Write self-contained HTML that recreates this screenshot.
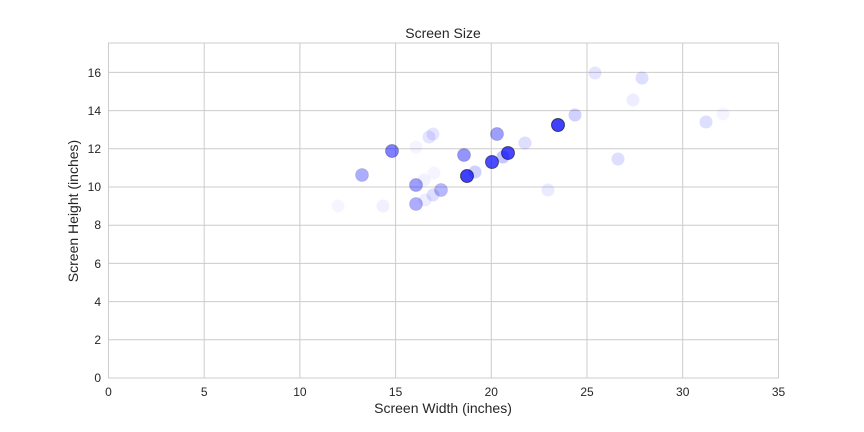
<!DOCTYPE html>
<html><head><meta charset="utf-8"><style>
body{margin:0;background:#fff;}
svg{display:block;font-family:"Liberation Sans",Arial,sans-serif;}
</style></head><body>
<svg width="864" height="432" viewBox="0 0 864 432" xmlns="http://www.w3.org/2000/svg">
<rect width="864" height="432" fill="#fff"/>
<g stroke="#cccccc" stroke-width="1">
<line x1="204.2" y1="43" x2="204.2" y2="378"/>
<line x1="299.9" y1="43" x2="299.9" y2="378"/>
<line x1="395.6" y1="43" x2="395.6" y2="378"/>
<line x1="491.3" y1="43" x2="491.3" y2="378"/>
<line x1="587" y1="43" x2="587" y2="378"/>
<line x1="682.7" y1="43" x2="682.7" y2="378"/>
<line x1="108.5" y1="339.8" x2="778.5" y2="339.8"/>
<line x1="108.5" y1="301.6" x2="778.5" y2="301.6"/>
<line x1="108.5" y1="263.4" x2="778.5" y2="263.4"/>
<line x1="108.5" y1="225.2" x2="778.5" y2="225.2"/>
<line x1="108.5" y1="187" x2="778.5" y2="187"/>
<line x1="108.5" y1="148.8" x2="778.5" y2="148.8"/>
<line x1="108.5" y1="110.6" x2="778.5" y2="110.6"/>
<line x1="108.5" y1="72.4" x2="778.5" y2="72.4"/>
<rect x="108.5" y="43" width="670" height="335" fill="none"/>
</g>
<g fill="#0000ff">
<circle cx="595" cy="73" r="6.5" fill-opacity="0.1"/>
<circle cx="642" cy="78" r="6.5" fill-opacity="0.13"/>
<circle cx="633" cy="100" r="6.5" fill-opacity="0.07"/>
<circle cx="575" cy="115" r="6.5" fill-opacity="0.18"/>
<circle cx="706" cy="122" r="6.5" fill-opacity="0.13"/>
<circle cx="723" cy="114" r="6.5" fill-opacity="0.04"/>
<circle cx="433" cy="134" r="6.5" fill-opacity="0.1"/>
<circle cx="429" cy="137" r="6.5" fill-opacity="0.1"/>
<circle cx="497" cy="134" r="6.5" fill-opacity="0.38" stroke="#000" stroke-opacity="0.15"/>
<circle cx="525" cy="143" r="6.5" fill-opacity="0.13"/>
<circle cx="392" cy="151" r="6.5" fill-opacity="0.5" stroke="#000" stroke-opacity="0.25"/>
<circle cx="416" cy="147" r="6.5" fill-opacity="0.04"/>
<circle cx="464" cy="155" r="6.5" fill-opacity="0.42" stroke="#000" stroke-opacity="0.15"/>
<circle cx="503" cy="157" r="6.5" fill-opacity="0.22"/>
<circle cx="618" cy="159" r="6.5" fill-opacity="0.13"/>
<circle cx="362" cy="175" r="6.5" fill-opacity="0.32" stroke="#000" stroke-opacity="0.1"/>
<circle cx="475" cy="172" r="6.5" fill-opacity="0.18"/>
<circle cx="434" cy="173" r="6.5" fill-opacity="0.04"/>
<circle cx="424" cy="180" r="6.5" fill-opacity="0.05"/>
<circle cx="416" cy="185" r="6.5" fill-opacity="0.38" stroke="#000" stroke-opacity="0.15"/>
<circle cx="441" cy="190" r="6.5" fill-opacity="0.28" stroke="#000" stroke-opacity="0.1"/>
<circle cx="433" cy="195" r="6.5" fill-opacity="0.13"/>
<circle cx="425" cy="200" r="6.5" fill-opacity="0.07"/>
<circle cx="416" cy="204" r="6.5" fill-opacity="0.32" stroke="#000" stroke-opacity="0.1"/>
<circle cx="548" cy="190" r="6.5" fill-opacity="0.08"/>
<circle cx="338" cy="206" r="6.5" fill-opacity="0.04"/>
<circle cx="383" cy="206" r="6.5" fill-opacity="0.06"/>
<circle cx="508" cy="153" r="6.5" fill-opacity="0.72" stroke="#000" stroke-opacity="0.5"/>
<circle cx="492" cy="162" r="6.5" fill-opacity="0.7" stroke="#000" stroke-opacity="0.5"/>
<circle cx="467" cy="176" r="6.5" fill-opacity="0.75" stroke="#000" stroke-opacity="0.55"/>
<circle cx="558" cy="125" r="6.5" fill-opacity="0.75" stroke="#000" stroke-opacity="0.6"/>
</g>
<g font-size="12" fill="#262626" text-anchor="end">
<text x="101" y="382">0</text>
<text x="101" y="344">2</text>
<text x="101" y="306">4</text>
<text x="101" y="268">6</text>
<text x="101" y="229">8</text>
<text x="101" y="191">10</text>
<text x="101" y="153">12</text>
<text x="101" y="115">14</text>
<text x="101" y="77">16</text>
</g>
<g font-size="12" fill="#262626" text-anchor="middle">
<text x="108.5" y="396">0</text>
<text x="204.2" y="396">5</text>
<text x="299.9" y="396">10</text>
<text x="395.6" y="396">15</text>
<text x="491.3" y="396">20</text>
<text x="587" y="396">25</text>
<text x="682.7" y="396">30</text>
<text x="778.5" y="396">35</text>
</g>
<text x="443" y="413" font-size="14" fill="#262626" text-anchor="middle">Screen Width (inches)</text>
<text transform="translate(78,211) rotate(-90)" font-size="14" fill="#262626" text-anchor="middle">Screen Height (inches)</text>
<text x="443" y="38" font-size="14" fill="#262626" text-anchor="middle">Screen Size</text>
</svg>
</body></html>
